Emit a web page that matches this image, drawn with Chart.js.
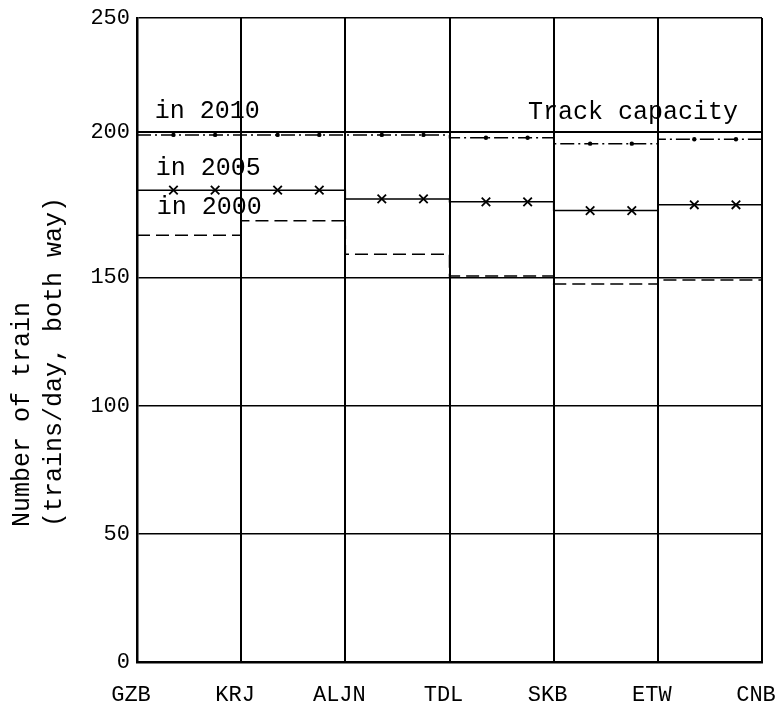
<!DOCTYPE html>
<html lang="en">
<head>
    <meta charset="UTF-8">
    <title>Number of trains per section</title>
    <script src="https://cdn.jsdelivr.net/npm/chart.js"></script>
    <style>
        body { margin: 0; background: #fff; }
        #wrap { width: 777px; height: 710px; }
    </style>
</head>
<body>
    <div id="wrap"><canvas id="myChart"></canvas></div>
    <script>
        // stations along the line, one value per section between two stations
        var stations = ['GZB', 'KRJ', 'ALJN', 'TDL', 'SKB', 'ETW', 'CNB'];
        var trackCapacity = [200, 200, 200, 200, 200, 200];
        var trains2010 = [199, 199, 199, 198, 196, 197.5];
        var trains2005 = [180, 180, 177, 176, 173, 175];
        var trains2000 = [164.5, 169.5, 158, 150.5, 147.5, 149];

        var notes = [
            { text: 'in 2010', x: 0.17, y: 209, align: 'left' },
            { text: 'in 2005', x: 0.18, y: 187.5, align: 'left' },
            { text: 'in 2000', x: 0.19, y: 174, align: 'left' },
            { text: 'Track capacity', x: 5.77, y: 208.5, align: 'right' }
        ];
        var yTitle = ['Number of train', '(trains/day, both way)'];

        // where the markers sit inside each section
        var markAt = [0.35, 0.75];

        // the scanned axis is not evenly spaced above 150
        var yBreaks = [0, 150, 200, 250];
        var yStops = [0, 0.597, 0.823, 1];

        class StretchedScale extends Chart.LinearScale {
            getPixelForValue(value) {
                var i = 1;
                while (i < yBreaks.length - 1 && value > yBreaks[i]) i++;
                var t = (value - yBreaks[i - 1]) / (yBreaks[i] - yBreaks[i - 1]);
                return this.getPixelForDecimal(yStops[i - 1] + t * (yStops[i] - yStops[i - 1]));
            }
            getValueForPixel(pixel) {
                var d = this.getDecimalForPixel(pixel);
                var i = 1;
                while (i < yStops.length - 1 && d > yStops[i]) i++;
                var t = (d - yStops[i - 1]) / (yStops[i] - yStops[i - 1]);
                return yBreaks[i - 1] + t * (yBreaks[i] - yBreaks[i - 1]);
            }
        }
        StretchedScale.id = 'stretched';
        StretchedScale.defaults = Chart.LinearScale.defaults;
        Chart.register(StretchedScale);

        function stepPoints(values, withMarks) {
            var pts = [];
            values.forEach(function(v, i) {
                pts.push({ x: i, y: v });
                if (withMarks) markAt.forEach(function(f) { pts.push({ x: i + f, y: v }); });
            });
            pts.push({ x: values.length, y: values[values.length - 1] });
            return pts;
        }

        function markRadius(r) {
            return function(ctx) { return Number.isInteger(ctx.raw.x) ? 0 : r; };
        }

        var noteFont = '25px "Liberation Mono", monospace';

        var notesPlugin = {
            id: 'notes',
            afterDatasetsDraw: function(chart) {
                var ctx = chart.ctx, xs = chart.scales.x, ys = chart.scales.y;
                ctx.save();
                ctx.font = noteFont;
                ctx.fillStyle = '#000';
                ctx.textBaseline = 'middle';
                notes.forEach(function(n) {
                    ctx.textAlign = n.align;
                    ctx.fillText(n.text, xs.getPixelForValue(n.x), ys.getPixelForValue(n.y));
                });
                ctx.restore();
            },
            afterDraw: function(chart) {
                var ctx = chart.ctx;
                ctx.save();
                ctx.font = noteFont;
                ctx.fillStyle = '#000';
                ctx.textBaseline = 'middle';
                ctx.textAlign = 'left';
                ctx.translate(0, 527);
                ctx.rotate(-Math.PI / 2);
                ctx.fillText(yTitle[0], 0, 22);
                ctx.fillText(yTitle[1], 0, 54);
                ctx.restore();
            }
        };

        var ctx = document.getElementById('myChart').getContext('2d');
        var myChart = new Chart(ctx, {
            type: 'line',
            data: {
                datasets: [{
                    label: 'Track capacity',
                    data: stepPoints(trackCapacity, false),
                    borderColor: '#000',
                    borderWidth: 2,
                    pointRadius: 0,
                    stepped: true
                }, {
                    label: 'in 2010',
                    data: stepPoints(trains2010, true),
                    borderColor: '#000',
                    borderWidth: 1.5,
                    borderDash: [14, 4, 2, 4],
                    pointStyle: 'circle',
                    pointRadius: markRadius(2.2),
                    pointBackgroundColor: '#000',
                    pointBorderWidth: 0,
                    stepped: true
                }, {
                    label: 'in 2005',
                    data: stepPoints(trains2005, true),
                    borderColor: '#000',
                    borderWidth: 1.5,
                    pointStyle: 'crossRot',
                    pointRadius: markRadius(6),
                    pointBorderColor: '#000',
                    pointBorderWidth: 1.8,
                    stepped: true
                }, {
                    label: 'in 2000',
                    data: stepPoints(trains2000, false),
                    borderColor: '#000',
                    borderWidth: 1.5,
                    borderDash: [13, 6],
                    pointRadius: 0,
                    stepped: true
                }]
            },
            options: {
                responsive: true,
                maintainAspectRatio: false,
                animation: false,
                layout: { padding: { top: 18, right: 15, left: 0, bottom: 0 } },
                plugins: {
                    legend: { display: false },
                    tooltip: { enabled: false }
                },
                scales: {
                    x: {
                        type: 'linear',
                        min: 0,
                        max: stations.length - 1,
                        grid: { color: '#000', lineWidth: 2, drawTicks: false },
                        border: { color: '#000', width: 2.5 },
                        ticks: {
                            stepSize: 1,
                            autoSkip: false,
                            maxRotation: 0,
                            padding: 20,
                            labelOffset: -6,
                            color: '#000',
                            font: { family: '"Liberation Mono", monospace', size: 22 },
                            callback: function(v) { return stations[v]; }
                        },
                        afterFit: function(scale) {
                            scale.height = 48;
                            scale.paddingLeft = 0;
                            scale.paddingRight = 0;
                        }
                    },
                    y: {
                        type: 'stretched',
                        min: 0,
                        max: 250,
                        grid: { color: '#000', lineWidth: 1.5, drawTicks: false },
                        border: { color: '#000', width: 2.5 },
                        ticks: {
                            stepSize: 50,
                            padding: 7,
                            color: '#000',
                            font: { family: '"Liberation Mono", monospace', size: 22 }
                        },
                        afterFit: function(scale) {
                            scale.width = 137;
                            scale.paddingTop = 0;
                            scale.paddingBottom = 0;
                        }
                    }
                }
            },
            plugins: [notesPlugin]
        });
    </script>
</body>
</html>
